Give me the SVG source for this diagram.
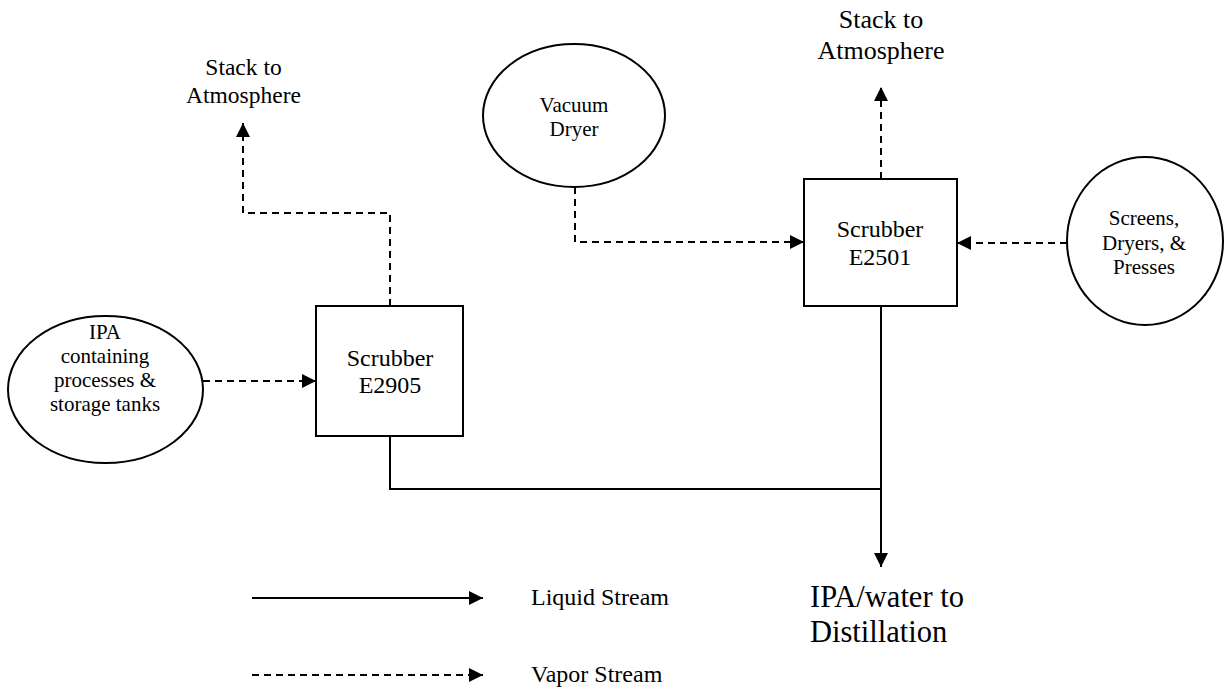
<svg xmlns="http://www.w3.org/2000/svg" width="1224" height="690" viewBox="0 0 1224 690">
<style>
text{font-family:"Liberation Serif","Times New Roman",serif;fill:#000;text-anchor:middle}
.n{fill:#fff;stroke:#000;stroke-width:2}
.liq{fill:none;stroke:#000;stroke-width:2}
.vap{fill:none;stroke:#000;stroke-width:2;stroke-dasharray:7 5}
.s21{font-size:21px}.s24{font-size:24px}
</style>
<defs>
<marker id="ah" viewBox="0 0 14 14" refX="14" refY="7" markerWidth="14" markerHeight="14" orient="auto" markerUnits="userSpaceOnUse"><path d="M0,0 L14,7 L0,14 z" fill="#000" stroke="none"/></marker>
</defs>
<rect width="1224" height="690" fill="#fff"/>
<g id="connectors">
<path class="vap" d="M203,381 H316" marker-end="url(#ah)"/>
<path class="vap" d="M390,306 V213 H243 V123" marker-end="url(#ah)"/>
<path class="vap" d="M575,187 V242 H804" marker-end="url(#ah)"/>
<path class="vap" d="M1067,243 H957" marker-end="url(#ah)"/>
<path class="vap" d="M881,179 V87" marker-end="url(#ah)"/>
<path class="liq" d="M390,436 V489 H881"/>
<path class="liq" d="M881,306 V567" marker-end="url(#ah)"/>
</g>
<g id="ipa-source">
<ellipse class="n" cx="105.5" cy="389.5" rx="97.5" ry="73.5"/>
<text class="s21" x="105" y="339">IPA</text>
<text class="s21" x="105" y="363">containing</text>
<text class="s21" x="105" y="387">processes &amp;</text>
<text class="s21" x="105" y="411">storage tanks</text>
</g>
<g id="scrubber-e2905">
<rect class="n" x="316" y="306" width="147" height="130"/>
<text class="s24" x="390" y="366">Scrubber</text>
<text class="s24" x="390" y="393">E2905</text>
</g>
<g id="stack-left">
<text style="font-size:23.5px" x="243.5" y="75">Stack to</text>
<text style="font-size:23.5px" x="243.5" y="103">Atmosphere</text>
</g>
<g id="vacuum-dryer">
<ellipse class="n" cx="574" cy="115.5" rx="91" ry="71.5"/>
<text class="s21" x="574" y="112">Vacuum</text>
<text class="s21" x="574" y="136">Dryer</text>
</g>
<g id="scrubber-e2501">
<rect class="n" x="804" y="179" width="153" height="127"/>
<text class="s24" x="880" y="237">Scrubber</text>
<text class="s24" x="880" y="265">E2501</text>
</g>
<g id="stack-right">
<text style="font-size:26px" x="881" y="28">Stack to</text>
<text style="font-size:26px" x="881" y="59">Atmosphere</text>
</g>
<g id="screens">
<ellipse class="n" cx="1145" cy="241" rx="78" ry="84"/>
<text class="s21" x="1144" y="225">Screens,</text>
<text class="s21" x="1144" y="250">Dryers, &amp;</text>
<text class="s21" x="1144" y="274">Presses</text>
</g>
<g id="distillation">
<text style="font-size:30.5px;text-anchor:start" x="810" y="607">IPA/water to</text>
<text style="font-size:30.5px;text-anchor:start" x="810" y="642">Distillation</text>
</g>
<g id="legend">
<path class="liq" d="M252,598 H483" marker-end="url(#ah)"/>
<path class="vap" d="M252,675 H483" marker-end="url(#ah)"/>
<text class="s24" style="text-anchor:start" x="531" y="605">Liquid Stream</text>
<text class="s24" style="text-anchor:start" x="531" y="682">Vapor Stream</text>
</g>
</svg>
